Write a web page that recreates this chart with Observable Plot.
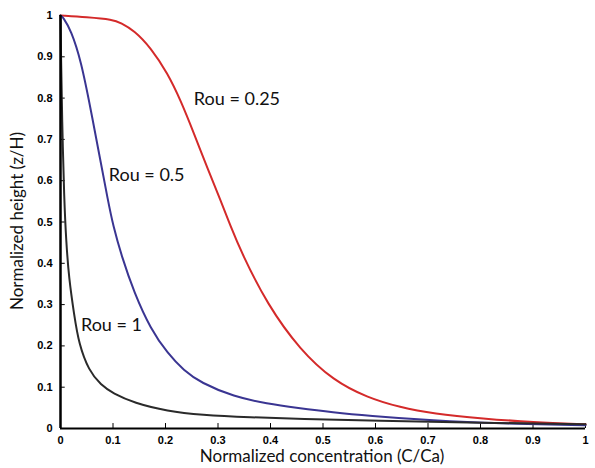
<!DOCTYPE html>
<html><head><meta charset="utf-8">
<script src="https://cdn.jsdelivr.net/npm/d3@7"></script>
<script src="https://cdn.jsdelivr.net/npm/@observablehq/plot@0.6"></script>
<style>
body{margin:0;background:#fff;}
#chart svg{display:block;}
</style>
</head><body><div id="chart"></div>
<script>
const xTicks = [0,0.1,0.2,0.3,0.4,0.5,0.6,0.7,0.8,0.9,1];
const yTicks = [0,0.1,0.2,0.3,0.4,0.5,0.6,0.7,0.8,0.9,1];
const tickLabels = ["0","0.1","0.2","0.3","0.4","0.5","0.6","0.7","0.8","0.9","1"];

const redX  = [0,0.05,0.1,0.115,0.14,0.172,0.204,0.229,0.254,0.28,0.305,0.324,0.345,0.394,0.457,0.52,0.584,0.647,0.71,0.805,0.9,1];
const redY  = [1,0.996,0.99,0.982,0.964,0.922,0.86,0.794,0.715,0.63,0.552,0.49,0.425,0.3,0.189,0.116,0.075,0.051,0.036,0.024,0.015,0.01];
const blueX = [0,0.005,0.02,0.039,0.058,0.077,0.09,0.1,0.117,0.14,0.172,0.204,0.235,0.267,0.33,0.394,0.451,0.52,0.584,0.71,0.838,1];
const blueY = [1,0.996,0.964,0.891,0.77,0.642,0.555,0.492,0.415,0.33,0.24,0.182,0.14,0.111,0.077,0.06,0.05,0.039,0.031,0.019,0.012,0.008];
const blackX = [0,0.001,0.003,0.007,0.011,0.016,0.026,0.035,0.054,0.077,0.1,0.14,0.204,0.267,0.362,0.457,0.6,0.8,1];
const blackY = [1,0.9,0.75,0.552,0.45,0.365,0.275,0.205,0.14,0.105,0.085,0.062,0.042,0.033,0.027,0.023,0.019,0.014,0.01];

const seriesNames = ["Rou = 0.25","Rou = 0.5","Rou = 1"];
const seriesColors = ["#d42a2a","#3a3592","#2a2a2a"];
const labelX = [0.254,0.092,0.039];
const labelY = [0.798,0.613,0.249];

const toPts = (xs, ys, s) => xs.map((x,i)=>({x, y: ys[i], s}));
const data = [
  ...toPts(redX, redY, seriesNames[0]),
  ...toPts(blueX, blueY, seriesNames[1]),
  ...toPts(blackX, blackY, seriesNames[2])
];
const labels = seriesNames.map((s,i)=>({s, x: labelX[i], y: labelY[i]}));
const fmt = d => tickLabels[Math.round(d*10)];

const chart = Plot.plot({
  width: 595, height: 468,
  marginLeft: 60, marginRight: 10, marginTop: 15, marginBottom: 40,
  style: {fontFamily: "Liberation Sans, Arial, sans-serif", fontSize: "11px", color: "#000", background: "#fff"},
  x: {domain: [0,1]},
  y: {domain: [0,1]},
  color: {domain: seriesNames, range: seriesColors},
  marks: [
    Plot.axisX({ticks: xTicks, tickFormat: fmt, tickSize: 0, tickPadding: 8, label: null, fontSize: 11, fontWeight: "bold"}),
    Plot.axisY({ticks: yTicks, tickFormat: fmt, tickSize: 0, tickPadding: 8, label: null, fontSize: 11, fontWeight: "bold"}),
    Plot.ruleX(xTicks, {x: d => d, y1: 0, y2: 0.012, stroke: "#000", strokeWidth: 1}),
    Plot.ruleY(yTicks, {y: d => d, x1: 0, x2: 0.009, stroke: "#000", strokeWidth: 1}),
    Plot.line(data, {x: "x", y: "y", z: "s", stroke: "s", strokeWidth: 2, curve: "basis"}),
    Plot.ruleY([0], {stroke: "#000", strokeWidth: 2}),
    Plot.ruleX([0], {stroke: "#000", strokeWidth: 2.5}),
    Plot.text(labels, {x: "x", y: "y", text: "s", textAnchor: "start", fontSize: 18, fontFamily: "Lato, sans-serif", fill: "#111"})
  ]
});

const svg = d3.select(chart);
svg.append("text").attr("x", 322).attr("y", 462).attr("text-anchor","middle")
  .attr("font-family","Lato, sans-serif").attr("font-size", 17).attr("fill","#111")
  .text("Normalized concentration (C/Ca)");
svg.append("text").attr("transform","translate(23,221) rotate(-90)").attr("text-anchor","middle")
  .attr("font-family","Lato, sans-serif").attr("font-size", 17).attr("fill","#111")
  .text("Normalized height (z/H)");

document.getElementById("chart").append(chart);
</script>
</body></html>
